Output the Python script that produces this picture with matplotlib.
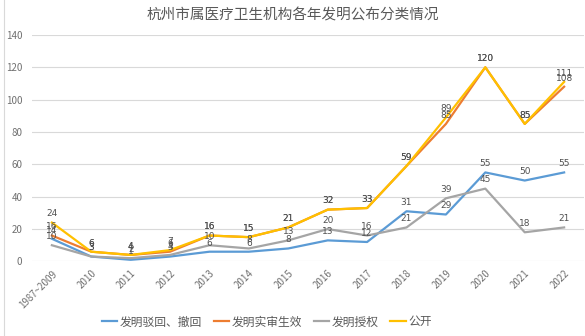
import matplotlib
matplotlib.use("Agg")
import matplotlib.pyplot as plt
from matplotlib.lines import Line2D

plt.rcParams['font.family'] = ['Noto Sans CJK SC', 'DejaVu Sans']

# catégories et séries
annees = ["1987~2009", "2010", "2011", "2012", "2013", "2014", "2015",
          "2016", "2017", "2018", "2019", "2020", "2021", "2022"]
bohui = [14, 3, 1, 3, 6, 6, 8, 13, 12, 31, 29, 55, 50, 55]
shishen = [16, 6, 4, 6, 16, 15, 21, 32, 33, 59, 85, 120, 85, 108]
shouquan = [10, 3, 2, 4, 10, 8, 13, 20, 16, 21, 39, 45, 18, 21]
gongkai = [24, 6, 4, 7, 16, 15, 21, 32, 33, 59, 89, 120, 85, 111]

series = [("发明驳回、撤回", bohui, "#5B9BD5"),
          ("发明实审生效", shishen, "#ED7D31"),
          ("发明授权", shouquan, "#A5A5A5"),
          ("公开", gongkai, "#FFC000")]

fig = plt.figure(figsize=(5.85, 3.36), dpi=100)
ax = fig.add_axes([0.055, 0.222, 0.943, 0.674])

x = list(range(len(annees)))
for nom, valeurs, couleur in series:
    ax.plot(x, valeurs, color=couleur, linewidth=1.6, label=nom,
            solid_joinstyle="round")
    for xi, v in zip(x, valeurs):
        ax.annotate(str(v), (xi, v), xytext=(0, 3), textcoords="offset points",
                    ha="center", va="bottom", fontsize=6.5, color="#505050",
                    family=["DejaVu Sans"])

ax.set_xlim(-0.5, len(annees) - 0.5)
ax.set_ylim(0, 140)
ax.set_yticks(range(0, 141, 20))
ax.grid(axis="y", color="#D9D9D9", linewidth=0.8)
ax.set_axisbelow(True)
for s in ax.spines.values():
    s.set_visible(False)
ax.tick_params(length=0, labelsize=7, colors="#707070")
ax.tick_params(axis="y", pad=7)
ax.tick_params(axis="x", pad=5)
ax.set_xticks(x)
ax.set_xticklabels(annees, rotation=45, ha="right", rotation_mode="anchor")

fig.suptitle("杭州市属医疗卫生机构各年发明公布分类情况", y=0.975,
             fontsize=10.5, color="#595959")

poignees = [Line2D([0], [0], color=c, linewidth=1.6) for _, _, c in series]
fig.legend(poignees, [n for n, _, _ in series], loc="center",
           bbox_to_anchor=(0.456, 0.042), ncol=4, frameon=False,
           fontsize=8.5, labelcolor="#595959", handlelength=1.3,
           handletextpad=0.2, columnspacing=1.0)

fig.add_artist(Line2D([0.007, 0.007], [0, 1], color="#D9D9D9",
                      linewidth=0.8, transform=fig.transFigure))

fig.savefig("out.png", dpi=100)
